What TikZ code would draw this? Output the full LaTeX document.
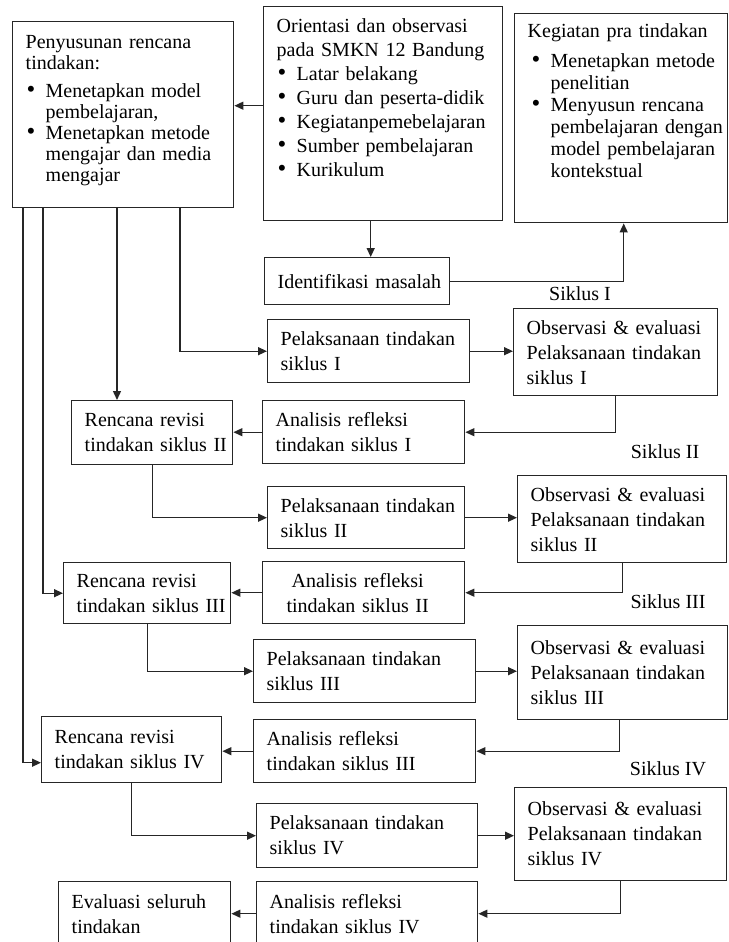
\documentclass[tikz,border=0pt]{standalone}
\usepackage{fontspec}
\setmainfont{Liberation Serif}
\usetikzlibrary{arrows.meta}

\newcommand{\butir}[1][0pt]{\par\hangindent=\dimexpr20pt+#1\relax\hangafter=1\noindent\hspace*{#1}\makebox[20pt][l]{\hspace{1pt}\scalebox{1.25}{\textbullet}}}

\begin{document}
\begin{tikzpicture}
[x=1pt, y=-1pt, >={Triangle[length=9pt,width=8pt]},
 every node/.style={inner sep=0pt},
 box/.style={draw=black!85, line width=1.4pt, anchor=north west, inner xsep=6pt, inner ysep=6pt, align=left, font=\fontsize{20}{25}\selectfont, execute at begin node={\leftskip=7pt\rightskip=-8pt plus 1fil}},
 lab/.style={anchor=base, font=\fontsize{20}{24}\selectfont},
 arr/.style={draw=black!85, line width=1.4pt, ->}]
\useasboundingbox (0,0) rectangle (728,942);
% atas
\node (pen) [box, text width=209pt, text height=21pt, text depth=153pt, font=\fontsize{20}{21}\selectfont] at (12,21) {Penyusunan rencana\\ tindakan:\par\vspace{7pt}\butir Menetapkan model\newline pembelajaran,\butir Menetapkan metode\newline mengajar dan media\newline mengajar\par};
\node (ori) [box, text width=227pt, text height=20pt, text depth=182pt, font=\fontsize{20}{24}\selectfont] at (263,6) {Orientasi dan observasi\\ pada SMKN 12 Bandung\butir Latar belakang\butir Guru dan peserta-didik\butir Kegiatanpemebelajaran\butir Sumber pembelajaran\butir Kurikulum\par};
\node (pra) [box, text width=201pt, text height=18pt, text depth=179pt, font=\fontsize{20}{22}\selectfont] at (514,13) {Kegiatan pra tindakan\par\vspace{8pt}\butir[3pt]Menetapkan metode\newline penelitian\butir[3pt]Menyusun rencana\newline pembelajaran dengan\newline model pembelajaran\newline kontekstual\par};
\node (idn) [box, text width=173pt, minimum height=47pt] at (264,257) {Identifikasi masalah};
% siklus I
\node (pl1) [box, text width=190pt, minimum height=63pt] at (267,319) {Pelaksanaan tindakan\\ siklus I};
\node (ob1) [box, text width=192pt, minimum height=87pt] at (513,308) {Observasi \& evaluasi\\ Pelaksanaan tindakan\\ siklus I};
\node (an1) [box, text width=190pt, minimum height=63pt] at (262,400) {Analisis refleksi\\ tindakan siklus I};
\node (rr2) [box, text width=149pt, minimum height=64pt] at (71,400) {Rencana revisi\\ tindakan siklus II};
% siklus II
\node (pl2) [box, text width=185pt, minimum height=62pt] at (267,486) {Pelaksanaan tindakan\\ siklus II};
\node (ob2) [box, text width=197pt, minimum height=87pt] at (517,475) {Observasi \& evaluasi\\ Pelaksanaan tindakan\\ siklus II};
\node (an2) [box, text width=190pt, minimum height=62pt, execute at begin node={\leftskip=0pt plus 1fil\rightskip=12pt plus 1fil\parfillskip=0pt}] at (262,561) {Analisis refleksi\\ tindakan siklus II};
\node (rr3) [box, text width=155pt, minimum height=61pt] at (63,562) {Rencana revisi\\ tindakan siklus III};
% siklus III
\node (pl3) [box, text width=210pt, minimum height=63pt] at (253,639) {Pelaksanaan tindakan\\ siklus III};
\node (ob3) [box, text width=198pt, minimum height=94pt] at (517,625) {Observasi \& evaluasi\\ Pelaksanaan tindakan\\ siklus III};
\node (an3) [box, text width=210pt, minimum height=63pt] at (253,719) {Analisis refleksi\\ tindakan siklus III};
\node (rr4) [box, text width=168pt, minimum height=66pt] at (41,716) {Rencana revisi\\ tindakan siklus IV};
% siklus IV
\node (pl4) [box, text width=209pt, minimum height=64pt] at (256,803) {Pelaksanaan tindakan\\ siklus IV};
\node (ob4) [box, text width=200pt, minimum height=93pt] at (514,787) {Observasi \& evaluasi\\ Pelaksanaan tindakan\\ siklus IV};
\node (an4) [box, text width=209pt, minimum height=64pt] at (256,881) {Analisis refleksi\\ tindakan siklus IV};
\node (eva) [box, text width=160pt, minimum height=64pt] at (58,881) {Evaluasi seluruh\\ tindakan};
% label siklus
\node (s1) [lab] at (580,300) {Siklus I};
\node (s2) [lab] at (665,458) {Siklus II};
\node (s3) [lab] at (668,608) {Siklus III};
\node (s4) [lab] at (668,775) {Siklus IV};
% panah
\draw [arr] ([yshift=8pt]ori.west) -- ([yshift=8pt]ori.west -| pen.east);
\draw [arr] ([xshift=-12.5pt]ori.south) -- ([xshift=-12.5pt]ori.south |- idn.north);
\draw [arr] (idn.east) -| ([xshift=2.5pt]pra.south);
\draw [arr] ([xshift=11pt]pen.south west) |- ([yshift=-13pt]rr4.west);
\draw [arr] ([xshift=31pt]pen.south west) |- (rr3.west);
\draw [arr] ([xshift=105pt]pen.south west) -- ([xshift=105pt]pen.south west |- rr2.north);
\draw [arr] ([xshift=168pt]pen.south west) |- (pl1.west);
\draw [arr] (pl1.east) -- (pl1.east -| ob1.west);
\draw [arr] (ob1.south) |- (an1.east);
\draw [arr] (an1.west) -- (an1.west -| rr2.east);
\draw [arr] (rr2.south) |- (pl2.west);
\draw [arr] (pl2.east) -- (pl2.east -| ob2.west);
\draw [arr] (ob2.south) |- (an2.east);
\draw [arr] (an2.west) -- (an2.west -| rr3.east);
\draw [arr] (rr3.south) |- (pl3.west);
\draw [arr] (pl3.east) -- (pl3.east -| ob3.west);
\draw [arr] ([xshift=-3pt]ob3.south) |- (an3.east);
\draw [arr] (an3.west) -- (an3.west -| rr4.east);
\draw [arr] (rr4.south) |- (pl4.west);
\draw [arr] (pl4.east) -- (pl4.east -| ob4.west);
\draw [arr] (ob4.south) |- (an4.east);
\draw [arr] (an4.west) -- (an4.west -| eva.east);
\end{tikzpicture}
\end{document}
